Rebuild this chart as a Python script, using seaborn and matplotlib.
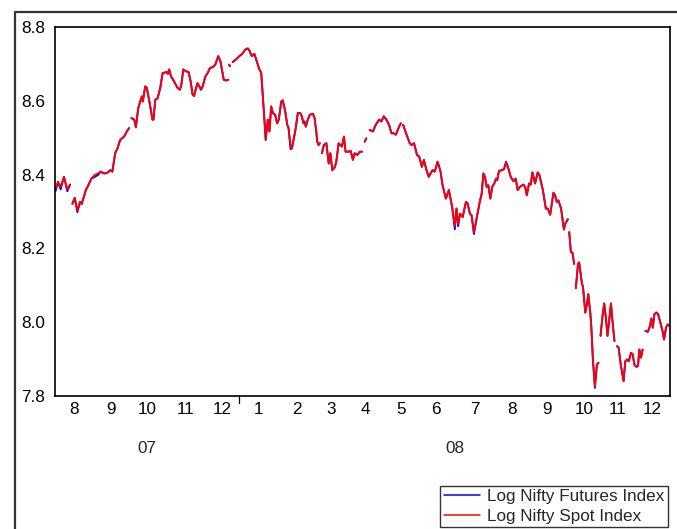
import numpy as np
import pandas as pd
import matplotlib
matplotlib.use('Agg')
import matplotlib.pyplot as plt
import seaborn as sns
from matplotlib.lines import Line2D
from matplotlib.transforms import blended_transform_factory

nan = np.nan

# trading day index (0 = 1 Aug 2007), nan marks a break in the series
day = [
    0.4, 1.8, 3.4, 5.4, 7.4, 9.1, 9.8,
    10.5, 11.9, 13.5, 15.1, 16.1, 18.6, 20.1, 21.9, 24.0, 26.0, 27.6, 29.6, 31.6, 33.3, 34.6,
    36.3, 37.7, 39.3, 41.7, 43.3, 44.7, 45.4,
    46.1, 47.8, 48.8, 50.2, 51.4, 52.4, 53.0, 54.4, 55.4, 57.3, 58.8, 59.4, 60.5, 61.9, 63.5,
    64.9, 65.9, 67.3, 68.1, 68.9, 70.0, 71.3, 73.9, 75.4, 76.2, 77.4, 79.0, 80.6, 81.8, 83.0,
    83.9, 85.1, 86.0, 88.1, 89.1, 90.7, 92.1, 93.5, 95.1, 96.7, 98.5, 99.8, 101.8, 103.2, 104.6, 104.8,
    105.0, 105.6, 106.4,
    107.2, 109.2, 111.2, 112.9, 114.9, 116.3, 117.3, 118.7, 120.3, 121.7, 123.3, 124.4, 125.3,
    126.4, 127.1, 128.4, 129.4, 130.4, 131.4, 132.8, 134.0, 135.0, 136.5, 137.4, 138.9, 140.1,
    140.9, 142.1, 142.9, 144.9, 146.5, 147.9, 148.9, 149.9, 150.5, 151.3, 152.5, 153.7, 155.6,
    156.6, 157.6, 158.2, 159.0, 159.8, 160.4,
    161.0, 162.2, 163.7, 165.1, 166.1, 167.3, 168.7, 169.7, 171.1, 173.1, 174.3, 175.3, 176.7,
    178.4, 179.7, 180.8, 182.4, 183.8, 185.2, 186.0,
    186.8, 187.8, 188.8,
    189.8, 191.8, 193.5, 195.5, 196.9, 198.3, 199.9, 201.5, 203.0, 204.4, 205.6, 207.6, 208.6, 209.3,
    210.0, 212.1, 214.0, 215.1, 216.6, 218.4, 219.7, 221.3, 222.5, 224.1,
    225.5, 226.5, 227.8, 229.1, 230.8, 232.6, 233.8, 235.8, 237.6, 239.6,
    241.2, 242.2, 243.2, 244.3, 245.9, 247.9, 248.9, 250.3, 251.3, 252.7,
    254.7, 256.4, 257.4, 258.4, 259.4, 260.4, 261.4, 262.6, 263.8, 265.0,
    266.0, 266.8, 267.8, 269.5, 270.9, 272.1, 273.5, 274.9, 276.5, 277.9,
    279.1, 280.5, 282.5, 283.6, 284.6, 286.0, 287.0, 288.0, 289.6, 291.2,
    292.2, 294.3, 296.1, 297.3, 298.7, 300.7, 301.7, 302.7, 303.7, 305.3,
    307.0, 307.8, 309.4, 309.8,
    310.2, 311.2, 312.2, 313.2, 313.7,
    314.2, 315.5, 316.2, 317.9, 318.5, 319.9, 320.9, 321.7, 322.9, 323.5, 324.5, 325.7, 326.9, 327.9, 328.5,
    329.1, 330.3, 331.3, 332.4, 333.3, 334.4, 335.4, 336.3, 337.5, 338.2,
    339.0, 340.0, 341.4, 342.0, 343.0, 344.0, 345.1, 346.1, 347.5, 348.5, 349.5, 350.7, 351.7,
    352.5, 353.5, 354.5, 355.4,
    356.2, 357.6, 358.6, 359.8, 360.6, 361.6, 362.8, 363.8, 365.2, 366.6, 367.4, 368.6, 369.6, 370.6,
]

spot = [
    8.362, 8.380, 8.367, 8.394, 8.360, 8.373, nan,
    8.321, 8.337, 8.303, 8.326, 8.320, 8.358, 8.371, 8.389, 8.399, 8.403, 8.408, 8.403, 8.405, 8.412, 8.408,
    8.458, 8.471, 8.494, 8.503, 8.517, 8.526, nan,
    8.553, 8.549, 8.528, 8.580, 8.598, 8.612, 8.598, 8.639, 8.635, 8.589, 8.549, 8.549, 8.603, 8.607, 8.635,
    8.675, 8.676, 8.678, 8.673, 8.685, 8.666, 8.657, 8.635, 8.630, 8.643, 8.685, 8.680, 8.678, 8.653, 8.617,
    8.613, 8.635, 8.648, 8.630, 8.639, 8.666, 8.675, 8.689, 8.691, 8.698, 8.721, 8.707, 8.657, 8.655, 8.657, nan,
    8.698, 8.694, nan,
    8.705, 8.712, 8.721, 8.727, 8.739, 8.742, 8.736, 8.721, 8.727, 8.707, 8.685, 8.676, 8.617,
    8.544, 8.494, 8.549, 8.517, 8.585, 8.567, 8.562, 8.539, 8.549, 8.598, 8.601, 8.571, 8.535,
    8.526, 8.476, 8.471, 8.517, 8.567, 8.567, 8.558, 8.539, 8.544, 8.530, 8.549, 8.562, 8.565,
    8.553, 8.517, 8.489, 8.480, 8.485, nan,
    8.458, 8.480, 8.485, 8.430, 8.458, 8.412, 8.419, 8.435, 8.485, 8.476, 8.503, 8.462, 8.462,
    8.464, 8.440, 8.458, 8.453, 8.462, 8.462, nan,
    8.489, 8.498, nan,
    8.521, 8.517, 8.535, 8.549, 8.544, 8.558, 8.549, 8.535, 8.512, 8.512, 8.508, 8.530, 8.539, nan,
    8.535, 8.508, 8.485, 8.480, 8.485, 8.453, 8.449, 8.421, 8.440, 8.412,
    8.394, 8.403, 8.412, 8.408, 8.435, 8.408, 8.371, 8.335, 8.358, 8.312,
    8.260, 8.308, 8.267, 8.294, 8.285, 8.326, 8.322, 8.294, 8.290, 8.244,
    8.290, 8.330, 8.348, 8.403, 8.394, 8.367, 8.371, 8.335, 8.367, 8.376,
    8.389, 8.385, 8.410, 8.412, 8.415, 8.432, 8.417, 8.394, 8.382, 8.389,
    8.358, 8.367, 8.373, 8.367, 8.344, 8.376, 8.373, 8.406, 8.376, 8.406,
    8.399, 8.358, 8.308, 8.308, 8.291, 8.351, 8.344, 8.326, 8.330, 8.308,
    8.251, 8.267, 8.279, nan,
    8.244, 8.190, 8.188, 8.158, nan,
    8.092, 8.158, 8.162, 8.103, 8.097, 8.026, 8.049, 8.076, 8.026, 7.990, 7.899, 7.826, 7.885, 7.890, nan,
    7.963, 8.017, 8.051, 8.008, 7.963, 8.008, 8.051, 8.003, 7.949, nan,
    7.935, 7.931, 7.881, 7.867, 7.840, 7.894, 7.899, 7.894, 7.917, 7.913, 7.885, 7.879, 7.881,
    7.926, 7.904, 7.926, nan,
    7.976, 7.974, 7.985, 8.010, 7.985, 8.022, 8.026, 8.022, 7.999, 7.974, 7.953, 7.985, 7.994, 7.990,
]

# futures follow spot except on these days
futures_diff = {0.4: 8.356, 3.4: 8.360, 7.4: 8.355, 13.5: 8.298, 24.0: 8.394, 26.0: 8.399,
                142.1: 8.469, 241.2: 8.252, 243.2: 8.260, 252.7: 8.239, 272.1: 8.435, 325.7: 7.822}

month_start = [0, 23, 44, 67, 91, 111, 135, 157, 176, 198, 219, 241, 265, 286, 308, 330, 349, 371]
month_labels = ['8', '9', '10', '11', '12', '1', '2', '3', '4', '5', '6', '7', '8', '9', '10', '11', '12']
year_labels = ['07', '08']
year_first_month = [0, 5]

df = pd.DataFrame({'day': day, 'spot': spot})
df['futures'] = df['spot']
for d, v in futures_diff.items():
    df.loc[np.isclose(df['day'], d), 'futures'] = v
df['seg'] = df['spot'].isna().cumsum()
df = df.dropna()
long = df.melt(id_vars=['day', 'seg'], value_vars=['futures', 'spot'],
               var_name='series', value_name='value')

sns.set_style('white')
plt.rcParams['font.family'] = ['Liberation Sans', 'DejaVu Sans']
fs = 12.3

fig = plt.figure(figsize=(6.77, 5.29), dpi=100)
ax = fig.add_axes([55 / 677, 133 / 529, 615 / 677, 369 / 529])

sns.lineplot(data=long, x='day', y='value', hue='series', units='seg', estimator=None,
             hue_order=['futures', 'spot'], palette={'futures': '#0000ff', 'spot': '#ff0000'},
             linewidth=1.35, legend=False, sort=False, ax=ax)

ax.set_xlim(month_start[0], month_start[-1])
ax.set_ylim(7.8, 8.8)
ax.set_xlabel('')
ax.set_ylabel('')

yt = np.arange(7.8, 8.81, 0.2)
ax.set_yticks(yt)
ax.set_yticklabels(['%.1f' % t for t in yt])
ax.tick_params(axis='y', length=0, pad=7, labelsize=fs, colors='black')

centers = [(a + b) / 2 for a, b in zip(month_start[:-1], month_start[1:])]
ax.set_xticks(month_start)
ax.set_xticklabels([])
ax.set_xticks(centers, minor=True)
ax.set_xticklabels(month_labels, minor=True)
ax.tick_params(axis='x', which='major', direction='out', length=3, width=0.9, color='black')
ax.tick_params(axis='x', which='minor', length=0, pad=4, labelsize=fs, labelcolor='black')

trans = blended_transform_factory(ax.transData, ax.transAxes)
bounds = [month_start[i] for i in year_first_month] + [month_start[-1]]
# longer tick at the start of each new year
for b in bounds[1:-1]:
    ax.plot([b, b], [0, -7 / 369], transform=trans, color='black', lw=0.9, clip_on=False)
for lab, a, b in zip(year_labels, bounds[:-1], bounds[1:]):
    ax.text((a + b) / 2, -0.141, lab, transform=trans, ha='center', va='center', fontsize=fs)

for s in ax.spines.values():
    s.set_color('black')
    s.set_linewidth(1.2)

# outer frame
fig.add_artist(Line2D([15 / 677, 15 / 677, 1], [0, 1 - 12 / 529, 1 - 12 / 529],
                      transform=fig.transFigure, color='#333333', lw=1.6))

handles = [Line2D([], [], color='#0000ff', lw=1.1), Line2D([], [], color='#ff0000', lw=1.1)]
leg = fig.legend(handles, ['Log Nifty Futures Index', 'Log Nifty Spot Index'],
                 loc='lower right', bbox_to_anchor=(668 / 677, 2 / 529), frameon=True,
                 fancybox=False, edgecolor='black', fontsize=fs, handlelength=2.1,
                 handletextpad=0.45, labelspacing=0.25, borderpad=0.2, borderaxespad=0)
leg.get_frame().set_linewidth(1.0)

fig.savefig('out.png', dpi=100)
